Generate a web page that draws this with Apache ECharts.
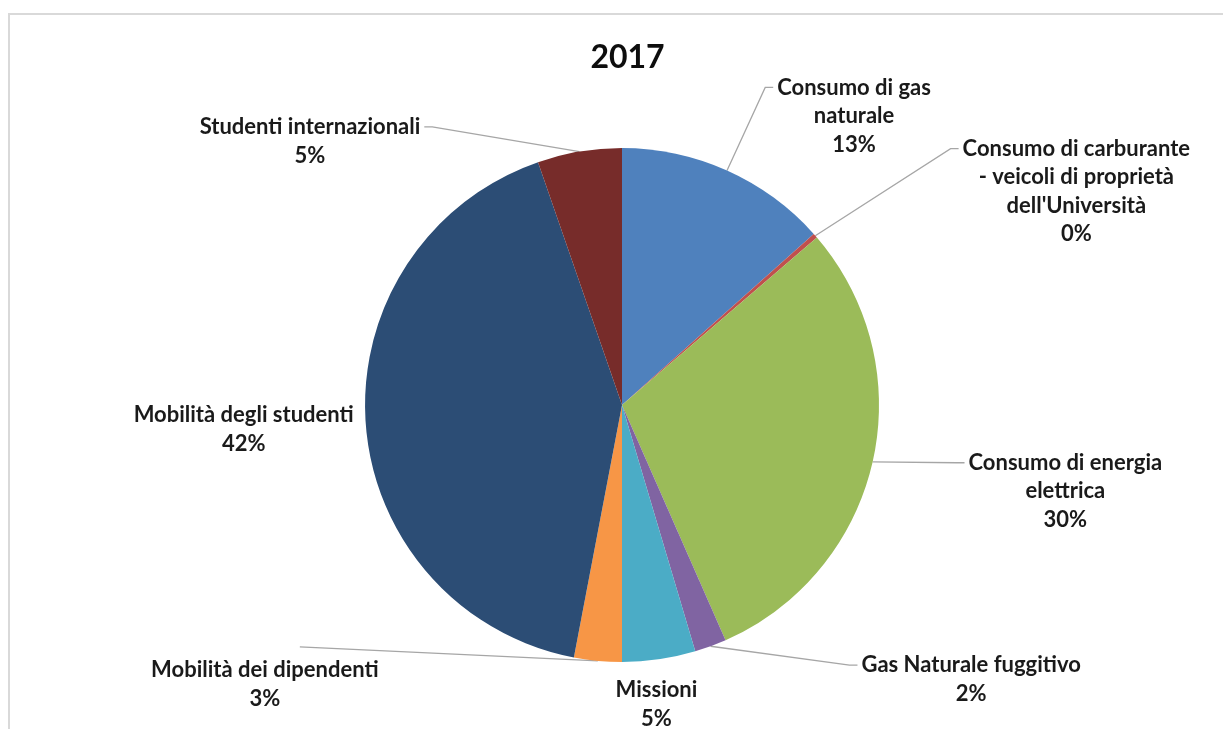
<!DOCTYPE html>
<html>
<head>
<meta charset="utf-8">
<script src="https://cdn.jsdelivr.net/npm/echarts@6/dist/echarts.min.js"></script>
<style>
  html, body { margin: 0; padding: 0; background: #ffffff; }
  #frame { position: absolute; left: 8px; top: 13px; right: 0; bottom: 0;
           border-left: 2px solid #d9d9d9; border-top: 2px solid #d9d9d9; }
  #chart { position: absolute; left: 0; top: 0; width: 1223px; height: 729px; }
</style>
</head>
<body>
<div id="frame"></div>
<div id="chart"></div>
<script>
// ---- data ----
const title = '2017';
const categories = [
  'Consumo di gas naturale',
  "Consumo di carburante - veicoli di proprietà dell'Università",
  'Consumo di energia elettrica',
  'Gas Naturale fuggitivo',
  'Missioni',
  'Mobilità dei dipendenti',
  'Mobilità degli studenti',
  'Studenti internazionali'
];
const labelTexts = [
  'Consumo di gas\nnaturale',
  "Consumo di carburante\n- veicoli di proprietà\ndell'Università",
  'Consumo di energia\nelettrica',
  'Gas Naturale fuggitivo',
  'Missioni',
  'Mobilità dei dipendenti',
  'Mobilità degli studenti',
  'Studenti internazionali'
];
const values = [13.4, 0.3, 29.7, 2.0, 4.6, 3.0, 41.7, 5.3];
const colors = ['#4F81BD', '#C0504D', '#9BBB59', '#8064A2', '#4BACC6', '#F79646', '#2C4D75', '#772C2A'];

// ---- label placement (line lengths and anchoring mode per slice) ----
const placement = [
  { len: 91,  len2: 9,   line: true,  mode: 'right-top' },
  { len: 132, len2: 44,  line: true,  mode: 'right-top' },
  { len: 4,   len2: 88,  line: true,  mode: 'right-top' },
  { len: 20,  len2: 140, line: true,  mode: 'right-top' },
  { len: 17,  len2: 0,   line: false, mode: 'below' },
  { len: 0,   len2: 298, line: true,  mode: 'below-lifted' },
  { len: 0,   len2: 8,   line: false, mode: 'left-mid' },
  { len: 25,  len2: 151, line: true,  mode: 'left-top' }
];

const FONT = 'Lato, "Noto Sans", sans-serif';
const LH = 28.5;
const GAP = 4;

const chart = echarts.init(document.getElementById('chart'), null, { renderer: 'canvas' });

const seriesData = categories.map((name, i) => ({
  name: name,
  value: values[i],
  itemStyle: { color: colors[i] },
  labelLine: { show: placement[i].line, length: placement[i].len, length2: placement[i].len2 }
}));

chart.setOption({
  animation: false,
  backgroundColor: 'transparent',
  title: {
    text: title,
    left: '50.9%',
    textAlign: 'center',
    top: 37,
    textStyle: { fontFamily: FONT, fontSize: 32, fontWeight: 'bold', color: '#0d0d0d' }
  },
  series: [{
    type: 'pie',
    center: ['50.86%', '55.56%'],
    radius: '70.5%',
    startAngle: 90,
    clockwise: true,
    avoidLabelOverlap: false,
    itemStyle: { borderWidth: 0 },
    label: {
      show: true,
      position: 'outside',
      alignTo: 'none',
      fontFamily: FONT,
      fontSize: 22,
      fontWeight: 'bold',
      lineHeight: LH,
      color: '#1a1a1a',
      formatter: function (p) {
        return labelTexts[p.dataIndex] + '\n' + Math.round(p.percent) + '%';
      }
    },
    labelLine: {
      show: true,
      smooth: false,
      lineStyle: { color: '#a6a6a6', width: 1.3 }
    },
    labelLayout: function (params) {
      const i = params.dataIndex;
      const pl = placement[i];
      const r = params.labelRect;
      const pts = params.labelLinePoints;
      let p2x, p2y;
      const h = r.height;
      const w = r.width;
      // derive the library-computed line end from the label rect
      const isRight = pts && pts.length ? pts[2][0] >= pts[0][0] : (pl.mode === 'right-top' || pl.mode === 'below');
      if (pts && pts.length === 3) {
        p2x = pts[2][0]; p2y = pts[2][1];
      } else if (isRight) {
        p2x = r.x - 5; p2y = r.y + h / 2;
      } else {
        p2x = r.x + w + 5; p2y = r.y + h / 2;
      }
      const out = { align: 'center', verticalAlign: 'top' };
      if (pl.mode === 'right-top') {
        out.x = p2x + GAP + w / 2;
        out.y = p2y - LH / 2;
        if (pts) out.labelLinePoints = [pts[0], [p2x - 8, p2y], [p2x, p2y]];
      } else if (pl.mode === 'left-top') {
        out.x = p2x - GAP - w / 2;
        out.y = p2y - LH / 2;
        if (pts) out.labelLinePoints = [pts[0], [p2x + 8, p2y], [p2x, p2y]];
      } else if (pl.mode === 'left-mid') {
        out.x = p2x - GAP - w / 2;
        out.y = p2y + 6;
        out.verticalAlign = 'middle';
      } else if (pl.mode === 'below') {
        out.x = p2x - 5;
        out.y = p2y;
      } else if (pl.mode === 'below-lifted') {
        out.x = p2x - 35;
        out.y = p2y - 5;
        if (pts) out.labelLinePoints = [pts[0], [p2x, p2y - 14]];
      }
      return out;
    },
    data: seriesData
  }]
});
</script>
</body>
</html>
